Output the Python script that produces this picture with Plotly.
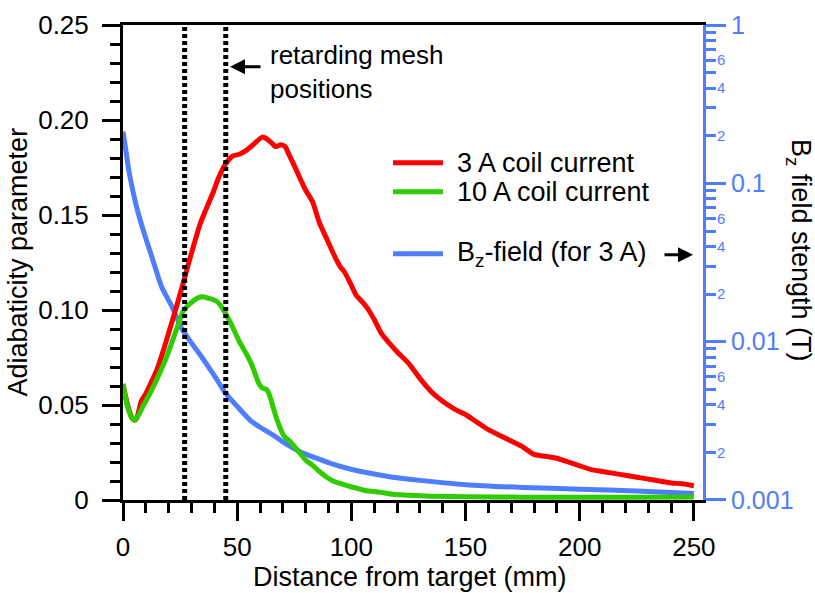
import plotly.graph_objects as go

# ---------------- data ----------------
distance_3A = [0, 2, 4, 5, 6, 8, 10, 12, 15, 18, 20, 23, 27, 30, 33.7, 36, 39.5, 42, 45, 48,
               51, 54, 57, 61, 63, 65, 67, 69, 71, 73, 75, 78, 80, 83, 86, 89, 92, 95, 97,
               100, 102, 105, 107, 110, 113, 117, 120, 125, 130, 135, 140, 145, 150, 155,
               160, 165, 170, 175, 180, 185, 190, 195, 200, 205, 210, 215, 220, 225, 230,
               235, 240, 245, 250]
adiabaticity_3A = [0.061, 0.050, 0.043, 0.042, 0.043, 0.052, 0.056, 0.061, 0.069, 0.080, 0.088,
                   0.100, 0.117, 0.130, 0.145, 0.152, 0.162, 0.170, 0.177, 0.181, 0.182, 0.184,
                   0.187, 0.191, 0.190, 0.188, 0.186, 0.187, 0.186, 0.181, 0.176, 0.168, 0.163,
                   0.157, 0.146, 0.138, 0.130, 0.123, 0.120, 0.113, 0.108, 0.104, 0.101, 0.095,
                   0.088, 0.082, 0.078, 0.072, 0.064, 0.057, 0.052, 0.048, 0.045, 0.041, 0.037,
                   0.034, 0.031, 0.028, 0.024, 0.023, 0.022, 0.020, 0.018, 0.016, 0.015, 0.014,
                   0.013, 0.012, 0.011, 0.010, 0.009, 0.0085, 0.0075]

distance_10A = [0, 2, 4, 5, 7, 9, 11.8, 15, 19, 23.5, 26.4, 30, 33, 35, 38, 41, 43, 45, 48, 51,
                54, 56.3, 58, 59.6, 61, 63, 64.5, 65.7, 67.5, 69.5, 71, 73, 77.5, 80, 83.3, 86,
                89.2, 92, 95, 99.4, 103, 106, 110, 113, 118, 125, 135, 150, 175, 200, 225, 250]
adiabaticity_10A = [0.061, 0.049, 0.043, 0.042, 0.045, 0.050, 0.056, 0.064, 0.075, 0.090, 0.0995,
                    0.104, 0.1065, 0.107, 0.106, 0.1046, 0.102, 0.098, 0.091, 0.0833, 0.077,
                    0.0714, 0.066, 0.061, 0.059, 0.058, 0.054, 0.049, 0.042, 0.036, 0.033, 0.031,
                    0.0247, 0.021, 0.018, 0.015, 0.012, 0.010, 0.0087, 0.0071, 0.006, 0.005,
                    0.0045, 0.004, 0.003, 0.0025, 0.002, 0.0017, 0.0015, 0.0015, 0.0015, 0.0016]

distance_B = [0, 1, 2, 3, 4.5, 6, 8, 10.4, 13, 16.9, 21.3, 25.7, 30, 33.7, 40, 45, 50, 55.6, 60,
              65.8, 70, 77.5, 85, 90.6, 99.4, 110, 120, 130, 150, 175, 200, 225, 250]
bz_field_T = [0.212, 0.172, 0.135, 0.111, 0.0873, 0.0706, 0.0556, 0.0431, 0.0330, 0.0222,
              0.0168, 0.0121, 0.0098, 0.0083, 0.0061, 0.0047, 0.0039, 0.0032, 0.00288, 0.00257,
              0.00233, 0.00202, 0.00183, 0.00171, 0.00157, 0.00146, 0.00138, 0.00133, 0.00125,
              0.00120, 0.00117, 0.00114, 0.00110]

mesh_positions = [27, 45]

x_tickvals = [0, 50, 100, 150, 200, 250]
left_tickvals = [0, 0.05, 0.10, 0.15, 0.20, 0.25]
left_ticktext = ["0", "0.05", "0.10", "0.15", "0.20", "0.25"]
right_tickvals = [0.001, 0.01, 0.1, 1]
right_ticktext = ["0.001", "0.01", "0.1", "1"]
right_minor_vals = [m * 10.0 ** e for e in (-3, -2, -1) for m in range(2, 10)]
right_small_vals = [m * 10.0 ** e for e in (-3, -2, -1) for m in (2, 4, 6)]
right_small_text = [str(m) for e in (-3, -2, -1) for m in (2, 4, 6)]

# ---------------- style ----------------
FONT = "Liberation Sans, Arial, Helvetica, sans-serif"
RED = "#ff0000"
GREEN = "#2ecc00"
BLUE = "#4f7dff"
BLACK = "#000000"

fig = go.Figure()

# Bz field on the (base) log axis so curves on the linear axis draw over it
fig.add_trace(go.Scatter(x=distance_B, y=bz_field_T, mode="lines", yaxis="y",
                         line=dict(color=BLUE, width=5, shape="spline", smoothing=0.6),
                         showlegend=False, hoverinfo="skip"))
fig.add_trace(go.Scatter(x=distance_3A, y=adiabaticity_3A, mode="lines", yaxis="y2",
                         line=dict(color=RED, width=5, shape="spline", smoothing=0.6),
                         showlegend=False, hoverinfo="skip"))
fig.add_trace(go.Scatter(x=distance_10A, y=adiabaticity_10A, mode="lines", yaxis="y2",
                         line=dict(color=GREEN, width=5, shape="spline", smoothing=0.6),
                         showlegend=False, hoverinfo="skip"))
for xm in mesh_positions:
    fig.add_trace(go.Scatter(x=[xm, xm], y=[0, 0.25], mode="lines", yaxis="y2",
                             line=dict(color=BLACK, width=5, dash="4px,3px"),
                             showlegend=False, hoverinfo="skip"))
# placeholder trace for the small-label axis
fig.add_trace(go.Scatter(x=[None], y=[None], yaxis="y3", showlegend=False, hoverinfo="skip"))

fig.update_layout(
    width=815, height=593,
    margin=dict(l=123, r=112, t=10, b=93),
    paper_bgcolor="white", plot_bgcolor="white",
    font=dict(family=FONT, size=26, color=BLACK),
    showlegend=False,
    xaxis=dict(
        range=[0, 254], showgrid=False, zeroline=False,
        showline=True, linecolor=BLACK, linewidth=3, mirror=True,
        tickmode="array", tickvals=x_tickvals,
        ticks="outside", ticklen=18, tickwidth=3, tickcolor=BLACK,
        tickfont=dict(size=26, color=BLACK), ticklabelstandoff=4,
        ticklabeloverflow="allow",
        minor=dict(dtick=10, tick0=0, ticks="outside", ticklen=10, tickwidth=3, tickcolor=BLACK),
    ),
    yaxis=dict(
        type="log", range=[-3.00005, 0.00005], side="right", anchor="x",
        showgrid=False, zeroline=False,
        showline=True, linecolor=BLUE, linewidth=3,
        tickmode="array", tickvals=right_tickvals, ticktext=right_ticktext,
        ticks="outside", ticklen=20, tickwidth=3, tickcolor=BLUE,
        tickfont=dict(size=25, color=BLUE), ticklabeloverflow="allow",
        minor=dict(tickmode="array", tickvals=right_minor_vals, ticks="outside",
                   ticklen=10, tickwidth=3, tickcolor=BLUE),
    ),
    yaxis2=dict(
        range=[0, 0.25001], overlaying="y", side="left", anchor="x",
        showgrid=False, zeroline=False,
        showline=True, linecolor=BLACK, linewidth=3,
        tickmode="array", tickvals=left_tickvals, ticktext=left_ticktext,
        ticks="outside", ticklen=18, tickwidth=3, tickcolor=BLACK,
        tickfont=dict(size=26, color=BLACK), ticklabelstandoff=8,
        ticklabeloverflow="allow",
        minor=dict(dtick=0.01, tick0=0, ticks="outside", ticklen=10, tickwidth=3, tickcolor=BLACK),
    ),
    yaxis3=dict(
        type="log", range=[-3.00005, 0.00005], overlaying="y", side="right", anchor="x",
        showgrid=False, zeroline=False, showline=False,
        tickmode="array", tickvals=right_small_vals, ticktext=right_small_text,
        ticks="outside", ticklen=10, tickwidth=3, tickcolor=BLUE,
        tickfont=dict(size=15, color=BLUE), ticklabeloverflow="allow",
    ),
)

# helpers converting window pixels of the reference into paper coordinates
def px_x(p):
    return (p - 123) / 580.0

def px_y(p):
    return (500 - p) / 490.0

annotations = [
    dict(text="Adiabaticity parameter", x=px_x(17), y=px_y(255), xref="paper", yref="paper",
         textangle=-90, showarrow=False, xanchor="center", yanchor="middle",
         font=dict(size=27, color=BLACK)),
    dict(text="Distance from target (mm)", x=px_x(410), y=px_y(579), xref="paper", yref="paper",
         showarrow=False, xanchor="center", yanchor="middle", font=dict(size=27, color=BLACK)),
    dict(text="B<sub>z</sub> field stength (T)", x=px_x(799), y=px_y(242), xref="paper",
         yref="paper", textangle=90, showarrow=False, xanchor="center", yanchor="middle",
         font=dict(size=27, color=BLACK)),
    dict(text="retarding mesh<br>positions", x=px_x(268), y=px_y(58), xref="paper",
         yref="paper", showarrow=False, xanchor="left", yanchor="middle", align="left",
         font=dict(size=26, color=BLACK)),
    dict(text="", x=px_x(230), y=px_y(53), xref="paper", yref="paper", showarrow=True,
         ax=32, ay=0, arrowhead=2, arrowsize=1, arrowwidth=3, arrowcolor=BLACK),
    dict(text="", x=px_x(693), y=px_y(247), xref="paper", yref="paper", showarrow=True,
         ax=-30, ay=0, arrowhead=2, arrowsize=1, arrowwidth=3, arrowcolor=BLACK),
]

legend_rows = [("3 A coil current", RED, 152),
               ("10 A coil current", GREEN, 182),
               ("B<sub>z</sub>-field (for 3 A)", BLUE, 246)]
shapes = []
for label, color, py in legend_rows:
    shapes.append(dict(type="line", xref="paper", yref="paper",
                       x0=px_x(393), x1=px_x(443), y0=px_y(py), y1=px_y(py),
                       line=dict(color=color, width=5)))
    annotations.append(dict(text=label, x=px_x(455), y=px_y(py), xref="paper", yref="paper",
                            showarrow=False, xanchor="left", yanchor="middle",
                            font=dict(size=27, color=BLACK)))

fig.update_layout(annotations=annotations, shapes=shapes)

# remove the default page margin so the figure sits at the window's top-left corner
fig.write_html("out.html",
               config={"displayModeBar": False},
               post_script="document.body.style.margin='0';document.body.style.padding='0';")
